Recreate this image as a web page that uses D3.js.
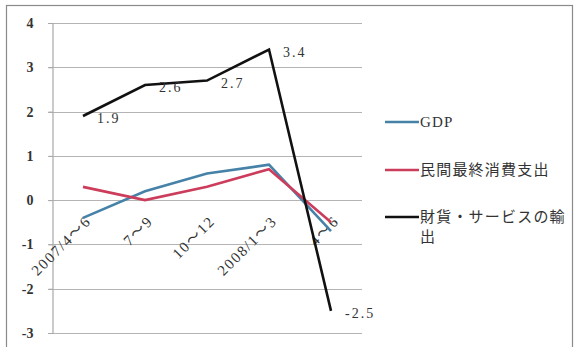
<!DOCTYPE html>
<html>
<head>
<meta charset="utf-8">
<script src="https://cdn.jsdelivr.net/npm/d3@7"></script>
<style>
  html, body { margin: 0; padding: 0; background: #fff; }
  svg { display: block; }
</style>
</head>
<body>
<svg id="chart" width="575" height="347"></svg>
<script>
// Quarterly growth rates (%), 2007 Q2 – 2008 Q2
const categories = ["2007/4～6", "7～9", "10～12", "2008/1～3", "4～6"];
const gdp = [-0.4, 0.2, 0.6, 0.8, -0.7];
const consumption = [0.3, 0.0, 0.3, 0.7, -0.5];
const exportsGS = [1.9, 2.6, 2.7, 3.4, -2.5];
const yTicks = [4, 3, 2, 1, 0, -1, -2, -3];
const seriesNames = ["GDP", "民間最終消費支出", "財貨・サービスの輸出"];
const seriesColors = ["#4682a8", "#cc3d5c", "#111111"];

const svg = d3.select("#chart");
const serif = "'Liberation Serif', 'DejaVu Serif', serif";
const jp = "'Liberation Serif', 'Noto Sans CJK JP', sans-serif";

// outer frame
svg.append("rect")
  .attr("x", 6.5).attr("y", 5.5).attr("width", 566).attr("height", 350)
  .attr("fill", "#fff").attr("stroke", "#8a8a8a").attr("stroke-width", 1.2);

const plot = { left: 52, right: 362, top: 23, bottom: 333 };

const x = d3.scalePoint()
  .domain(categories)
  .range([plot.left, plot.right])
  .padding(0.5);

const y = d3.scaleLinear()
  .domain([-3, 4])
  .range([plot.bottom, plot.top]);

// horizontal gridlines
svg.append("g")
  .selectAll("line")
  .data(yTicks)
  .join("line")
  .attr("x1", plot.left - 4)
  .attr("x2", plot.right)
  .attr("y1", d => Math.round(y(d)) + 0.5)
  .attr("y2", d => Math.round(y(d)) + 0.5)
  .attr("stroke", "#b4b4b4")
  .attr("stroke-width", 1.2);

// vertical axis with tick labels
const yAxis = svg.append("g")
  .attr("transform", `translate(${plot.left + 0.5},0)`)
  .call(d3.axisLeft(y).tickValues(yTicks).tickSize(4).tickFormat(d3.format("d")));
yAxis.select(".domain").attr("stroke", "#a8a8a8").attr("stroke-width", 1.2);
yAxis.selectAll(".tick line").attr("stroke", "#a8a8a8");
yAxis.selectAll(".tick text")
  .attr("x", -19)
  .attr("font-family", serif)
  .attr("font-size", 14)
  .attr("font-weight", "bold")
  .attr("fill", "#333")
  .text(d => d < 0 ? "-" + Math.abs(d) : d);

// category labels, rotated, hanging just below the zero line
svg.append("g")
  .selectAll("text")
  .data(categories)
  .join("text")
  .attr("transform", d => `translate(${x(d) + 9},${y(0) + 22}) rotate(-45)`)
  .attr("text-anchor", "end")
  .attr("font-family", jp)
  .attr("font-size", 15)
  .attr("letter-spacing", 1.6)
  .attr("fill", "#333")
  .text(d => d);

// series lines
const seriesData = [gdp, consumption, exportsGS];
const line = d3.line()
  .x((d, i) => x(categories[i]))
  .y(d => y(d));

svg.append("g")
  .selectAll("path")
  .data(seriesData)
  .join("path")
  .attr("d", d => line(d))
  .attr("fill", "none")
  .attr("stroke", (d, i) => seriesColors[i])
  .attr("stroke-width", 2.6)
  .attr("stroke-linejoin", "miter");

// value labels on the export series
svg.append("g")
  .selectAll("text")
  .data(exportsGS)
  .join("text")
  .attr("x", (d, i) => x(categories[i]) + 14)
  .attr("y", d => y(d) + 7)
  .attr("font-family", serif)
  .attr("font-size", 14)
  .attr("letter-spacing", 2)
  .attr("fill", "#333")
  .text(d => d < 0 ? "-" + Math.abs(d).toFixed(1) : d.toFixed(1));

// legend
const legendRows = [
  { lines: ["GDP"], y: 122 },
  { lines: ["民間最終消費支出"], y: 170 },
  { lines: ["財貨・サービスの輸", "出"], y: 217 }
];
const legend = svg.append("g");
legendRows.forEach((row, i) => {
  legend.append("line")
    .attr("x1", 385).attr("x2", 419)
    .attr("y1", row.y).attr("y2", row.y)
    .attr("stroke", seriesColors[i])
    .attr("stroke-width", 2.6);
  const t = legend.append("text")
    .attr("x", 420)
    .attr("y", row.y + 5)
    .attr("font-family", jp)
    .attr("font-size", 15)
    .attr("letter-spacing", 1.2)
    .attr("fill", "#333");
  row.lines.forEach((s, k) => {
    t.append("tspan").attr("x", 420).attr("dy", k === 0 ? 0 : 20).text(s);
  });
});
</script>
</body>
</html>
